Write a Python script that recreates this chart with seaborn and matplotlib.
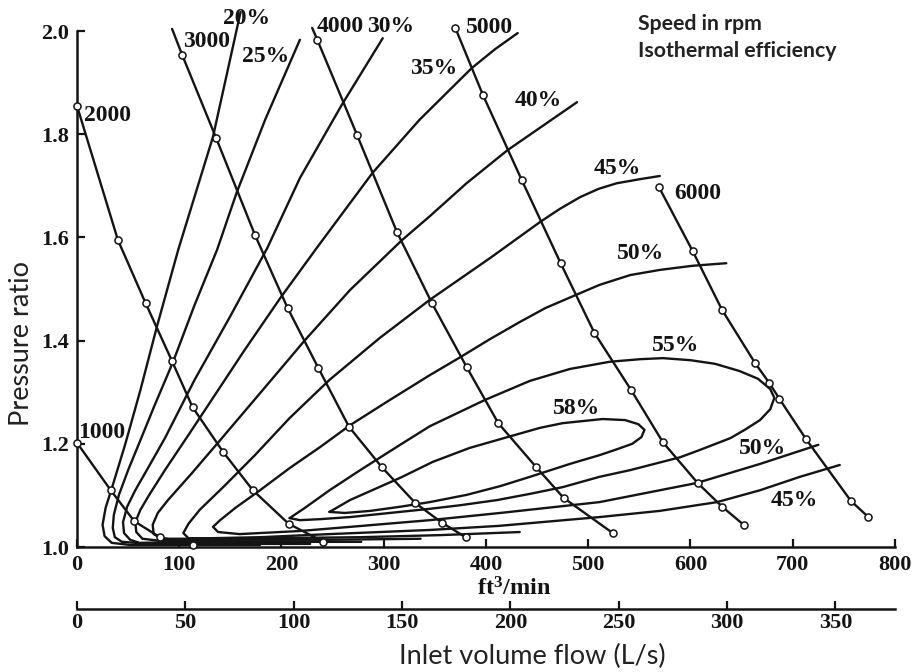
import matplotlib
matplotlib.use("Agg")
import matplotlib.pyplot as plt
import pandas as pd
import seaborn as sns

# ---------------------------------------------------------------
# Constant-speed lines: inlet flow (ft3/min) and pressure ratio
# ---------------------------------------------------------------
rpm_1000_flow = [0, 33, 56, 81, 113]
rpm_1000_pr = [1.202, 1.110, 1.050, 1.019, 1.004]

rpm_2000_flow = [0, 40, 67, 93, 113, 143, 172, 207, 241]
rpm_2000_pr = [1.855, 1.595, 1.473, 1.360, 1.271, 1.184, 1.110, 1.045, 1.010]

rpm_3000_flow = [93, 103, 136, 174, 206, 236, 266, 298, 331, 357, 380]
rpm_3000_pr = [2.004, 1.953, 1.793, 1.605, 1.463, 1.347, 1.233, 1.155, 1.085, 1.047, 1.019]

rpm_4000_flow = [230, 235, 274, 313, 347, 381, 412, 449, 476, 524]
rpm_4000_pr = [2.006, 1.983, 1.798, 1.610, 1.473, 1.349, 1.240, 1.155, 1.095, 1.027]

rpm_5000_flow = [370, 397, 435, 473, 506, 542, 573, 607, 631, 652]
rpm_5000_pr = [2.006, 1.876, 1.711, 1.550, 1.415, 1.304, 1.203, 1.124, 1.078, 1.043]

rpm_6000_flow = [569, 602, 631, 663, 677, 687, 713, 757, 774]
rpm_6000_pr = [1.698, 1.574, 1.459, 1.357, 1.318, 1.287, 1.209, 1.089, 1.058]

speeds = [1000, 2000, 3000, 4000, 5000, 6000]
# leading points of a speed line that carry no test-point circle
speed_unmarked_head = {1000: 0, 2000: 0, 3000: 1, 4000: 1, 5000: 0, 6000: 0}

# ---------------------------------------------------------------
# Isothermal efficiency contours (%)
# ---------------------------------------------------------------
eff_20_flow = [179, 111, 52, 34, 27, 25, 28, 35, 47, 62, 78, 99, 133, 160]
eff_20_pr = [1.004, 1.004, 1.004, 1.008, 1.021, 1.043, 1.076, 1.120, 1.198,
             1.304, 1.426, 1.576, 1.795, 2.037]

eff_25_flow = [228, 150, 71, 44, 37, 35, 36, 41, 50, 62, 76, 94, 115, 137, 156, 184, 218]
eff_25_pr = [1.006, 1.006, 1.006, 1.010, 1.019, 1.037, 1.062, 1.101, 1.149, 1.207,
             1.275, 1.359, 1.469, 1.576, 1.686, 1.828, 1.983]

eff_30_flow = [278, 200, 112, 61, 52, 46, 45, 49, 57, 70, 86, 115, 149, 186, 218, 259, 299]
eff_30_pr = [1.010, 1.010, 1.010, 1.008, 1.014, 1.027, 1.048, 1.078, 1.110, 1.155,
             1.211, 1.324, 1.444, 1.579, 1.715, 1.857, 1.986]

eff_35_flow = [336, 247, 159, 81, 64, 58, 57, 62, 70, 86, 111, 135, 164, 199, 235,
               289, 335, 386, 409, 431]
eff_35_pr = [1.016, 1.014, 1.014, 1.012, 1.016, 1.029, 1.048, 1.072, 1.099, 1.149,
             1.223, 1.295, 1.382, 1.483, 1.581, 1.725, 1.828, 1.928, 1.965, 1.996]

eff_40_flow = [433, 355, 277, 189, 111, 83, 75, 74, 79, 89, 111, 140, 179, 223, 267,
               318, 345, 381, 421, 489]
eff_40_pr = [1.029, 1.023, 1.019, 1.017, 1.016, 1.016, 1.025, 1.043, 1.066, 1.091,
             1.140, 1.207, 1.298, 1.401, 1.498, 1.595, 1.641, 1.705, 1.769, 1.862]

eff_45_flow = [570, 551, 528, 510, 492, 472, 453, 404, 345, 296, 247, 208, 174, 145,
               120, 109, 104, 109, 130, 179, 247, 345, 413, 511, 570, 626, 668, 707, 746]
eff_45_pr = [1.719, 1.713, 1.705, 1.694, 1.678, 1.655, 1.630, 1.560, 1.479, 1.405,
             1.324, 1.250, 1.178, 1.120, 1.072, 1.045, 1.027, 1.017, 1.017, 1.019,
             1.025, 1.033, 1.041, 1.058, 1.070, 1.087, 1.110, 1.136, 1.159]

eff_50_flow = [635, 602, 570, 541, 511, 485, 458, 433, 404, 375, 345, 306, 267, 238,
               208, 179, 155, 140, 133, 138, 159, 218, 267, 345, 414, 511, 606, 668, 725]
eff_50_pr = [1.550, 1.545, 1.537, 1.527, 1.508, 1.486, 1.463, 1.436, 1.403, 1.368,
             1.333, 1.285, 1.236, 1.194, 1.153, 1.110, 1.076, 1.052, 1.039, 1.029,
             1.025, 1.031, 1.039, 1.052, 1.066, 1.087, 1.124, 1.161, 1.198]

eff_55_flow = [208, 223, 247, 277, 316, 345, 399, 443, 482, 521, 551, 573, 600, 624,
               648, 666, 678, 682, 678, 668, 653, 639, 609, 590, 541, 511, 475, 443,
               411, 375, 345, 306, 267, 238, 218, 208]
eff_55_pr = [1.056, 1.076, 1.110, 1.149, 1.198, 1.234, 1.285, 1.322, 1.345, 1.359,
             1.364, 1.366, 1.362, 1.355, 1.341, 1.326, 1.306, 1.289, 1.267, 1.246,
             1.227, 1.211, 1.188, 1.174, 1.149, 1.136, 1.116, 1.103, 1.091, 1.081,
             1.074, 1.066, 1.058, 1.054, 1.052, 1.056]

eff_58_flow = [247, 267, 316, 348, 384, 421, 453, 475, 514, 536, 549, 555, 552, 543,
               526, 511, 482, 443, 414, 381, 345, 316, 287, 262, 247]
eff_58_pr = [1.068, 1.091, 1.134, 1.165, 1.192, 1.213, 1.231, 1.240, 1.248, 1.246,
             1.238, 1.227, 1.213, 1.200, 1.188, 1.178, 1.161, 1.136, 1.118, 1.101,
             1.087, 1.078, 1.070, 1.066, 1.068]

efficiencies = [20, 25, 30, 35, 40, 45, 50, 55, 58]

# Flow axis values
flow_ticks = [0, 100, 200, 300, 400, 500, 600, 700, 800]
litre_ticks = [0, 50, 100, 150, 200, 250, 300, 350]
pr_ticks = [1.0, 1.2, 1.4, 1.6, 1.8, 2.0]
CFM_TO_LPS = 0.4719

# ---------------------------------------------------------------
# Long-form tables
# ---------------------------------------------------------------
g = globals()
speed_rows, mark_rows, eff_rows = [], [], []
for rpm in speeds:
    flow, pr = g[f"rpm_{rpm}_flow"], g[f"rpm_{rpm}_pr"]
    for i, (f, p) in enumerate(zip(flow, pr)):
        speed_rows.append({"curve": rpm, "order": i, "flow": f, "pr": p})
        if i >= speed_unmarked_head[rpm]:
            mark_rows.append({"curve": rpm, "flow": f, "pr": p})
for eff in efficiencies:
    flow, pr = g[f"eff_{eff}_flow"], g[f"eff_{eff}_pr"]
    for i, (f, p) in enumerate(zip(flow, pr)):
        eff_rows.append({"curve": eff, "order": i, "flow": f, "pr": p})

speed_df = pd.DataFrame(speed_rows)
mark_df = pd.DataFrame(mark_rows)
eff_df = pd.DataFrame(eff_rows)

# ---------------------------------------------------------------
# Figure
# ---------------------------------------------------------------
sns.set_theme(style="ticks")
plt.rcParams["font.family"] = ["Liberation Serif", "DejaVu Serif"]
plt.rcParams["font.weight"] = "bold"
plt.rcParams["axes.linewidth"] = 1.8
plt.rcParams["mathtext.fontset"] = "custom"
plt.rcParams["mathtext.rm"] = "Liberation Serif:bold"
plt.rcParams["mathtext.default"] = "rm"

INK = "#141414"
fig = plt.figure(figsize=(9.15, 6.72), dpi=100)
ax = fig.add_axes([0.08415, 0.18601, 0.89399, 0.80625])

sns.lineplot(data=eff_df, x="flow", y="pr", units="curve", estimator=None,
             sort=False, color=INK, lw=1.7, ax=ax, legend=False, clip_on=False)
sns.lineplot(data=speed_df, x="flow", y="pr", units="curve", estimator=None,
             sort=False, color=INK, lw=1.7, ax=ax, legend=False, clip_on=False)
sns.scatterplot(data=mark_df, x="flow", y="pr", marker="o", s=26, color="white",
                edgecolor=INK, linewidth=1.1, ax=ax, legend=False, zorder=5,
                clip_on=False)

# curve annotations
label_font = dict(fontsize=17, fontweight="bold", color=INK, ha="center", va="center")
speed_label_at = {1000: (24, 1.221), 2000: (30, 1.837), 3000: (127, 1.979),
                  4000: (257, 2.008), 5000: (403, 2.006), 6000: (607, 1.686)}
for rpm, (x, y) in speed_label_at.items():
    ax.text(x, y, str(rpm), **label_font)

eff_label_at = [(20, 166, 2.025), (25, 184, 1.950), (30, 307, 2.008),
                (35, 349, 1.928), (40, 451, 1.866), (45, 528, 1.733),
                (50, 551, 1.568), (55, 585, 1.391), (58, 489, 1.269),
                (50, 670, 1.190), (45, 702, 1.091)]
for eff, x, y in eff_label_at:
    ax.text(x, y, f"{eff}%", **label_font)

# primary axes
ax.set_xlim(0, 800)
ax.set_ylim(1.0, 2.05)
ax.set_xticks(flow_ticks)
ax.set_yticks(pr_ticks)
ax.set_yticklabels([f"{v:.1f}" for v in pr_ticks])
ax.set_xlabel("")
ax.set_ylabel("")
ax.tick_params(direction="in", length=6, width=1.6, labelsize=16, pad=6,
               colors=INK)
sns.despine(ax=ax)
ax.spines["left"].set_bounds(1.0, 2.0)
for s in ("left", "bottom"):
    ax.spines[s].set_color(INK)

# second flow scale in litres per second
sec = ax.secondary_xaxis(-0.115, functions=(lambda c: c * CFM_TO_LPS,
                                            lambda l: l / CFM_TO_LPS))
sec.set_xticks(litre_ticks)
sec.tick_params(direction="in", length=6, width=1.6, labelsize=16, pad=3,
                colors=INK)
sec.spines["bottom"].set_linewidth(1.8)
sec.spines["bottom"].set_color(INK)

# axis titles and key
fig.text(514 / 915, 1 - 589 / 672, r"ft$^3$/min", ha="center", va="center",
         fontsize=17.5, fontweight="bold", color=INK)
sans = ["Lato", "DejaVu Sans"]
fig.text(532 / 915, 1 - 656 / 672, "Inlet volume flow (L/s)", ha="center",
         va="center", fontsize=19.5, family=sans, fontweight="normal", color="#222")
fig.text(22 / 915, 1 - 343 / 672, "Pressure ratio", ha="center", va="center",
         rotation=90, fontsize=19.5, family=sans, fontweight="normal", color="#222")
fig.text(638 / 915, 1 - 24 / 672, "Speed in rpm", ha="left", va="center",
         fontsize=15.3, family=sans, fontweight="bold", color="#222")
fig.text(638 / 915, 1 - 51 / 672, "Isothermal efficiency", ha="left", va="center",
         fontsize=15.3, family=sans, fontweight="bold", color="#222")

fig.savefig("out.png", dpi=100)
